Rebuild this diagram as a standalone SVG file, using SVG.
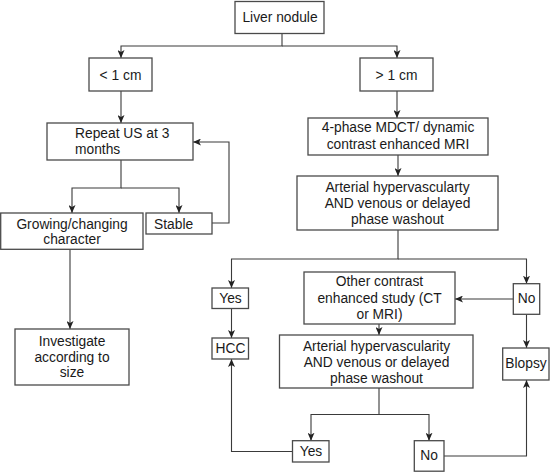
<svg xmlns="http://www.w3.org/2000/svg" width="555" height="472" viewBox="0 0 555 472">
<style>
.box{fill:#fff;stroke:#4a4a4a;stroke-width:1.3}
.t{font-family:"Liberation Sans",Arial,sans-serif;font-size:13.8px;fill:#1a1a1a;text-anchor:middle}
.l{text-anchor:start}
.c{fill:none;stroke:#3a3a3a;stroke-width:1.1}
</style>
<defs>
<marker id="ah" markerUnits="userSpaceOnUse" markerWidth="8" markerHeight="7" refX="8" refY="3.5" orient="auto">
<path d="M0,0 L8,3.5 L0,7 L2,3.5 z" fill="#222"/>
</marker>
</defs>
<rect width="555" height="472" fill="#fff"/>
<g id="connectors">
<path class="c" d="M282,33.5 V46 H121 V58" marker-end="url(#ah)"/>
<path class="c" d="M282,46 H397 V58" marker-end="url(#ah)"/>
<path class="c" d="M121,91 V123" marker-end="url(#ah)"/>
<path class="c" d="M121,160 V188 H72 V213" marker-end="url(#ah)"/>
<path class="c" d="M121,188 H179 V213" marker-end="url(#ah)"/>
<path class="c" d="M212,223 H229 V142 H193" marker-end="url(#ah)"/>
<path class="c" d="M70,249 V329" marker-end="url(#ah)"/>
<path class="c" d="M397,91 V118" marker-end="url(#ah)"/>
<path class="c" d="M398,155 V176" marker-end="url(#ah)"/>
<path class="c" d="M398,230 V259 H231.5 V288" marker-end="url(#ah)"/>
<path class="c" d="M398,259 H526.5 V283.7" marker-end="url(#ah)"/>
<path class="c" d="M513.3,299 H455" marker-end="url(#ah)"/>
<path class="c" d="M526.5,314.3 V348" marker-end="url(#ah)"/>
<path class="c" d="M231.5,308.5 V338" marker-end="url(#ah)"/>
<path class="c" d="M379,324 V335" marker-end="url(#ah)"/>
<path class="c" d="M379,388 V414.5 H311 V440.7" marker-end="url(#ah)"/>
<path class="c" d="M379,414.5 H429 V440.7" marker-end="url(#ah)"/>
<path class="c" d="M292.5,451.5 H231.5 V359" marker-end="url(#ah)"/>
<path class="c" d="M444,456 H526.5 V380" marker-end="url(#ah)"/>
</g>
<g id="liver"><rect class="box" x="235" y="1.5" width="89" height="32"/><text class="t" x="280" y="22">Liver nodule</text></g>
<g id="lt1"><rect class="box" x="89" y="58" width="63" height="33"/><text class="t" x="120.5" y="79.5">&lt; 1 cm</text></g>
<g id="gt1"><rect class="box" x="360" y="58" width="73" height="33"/><text class="t" x="396.5" y="79.5">&gt; 1 cm</text></g>
<g id="repeat"><rect class="box" x="47" y="123" width="146" height="37"/><text class="t l" x="75" y="138">Repeat US at 3</text><text class="t l" x="75" y="153.5">months</text></g>
<g id="growing"><rect class="box" x="0.7" y="213" width="142.3" height="36.3"/><text class="t" x="72" y="228.5">Growing/changing</text><text class="t" x="72" y="243.5">character</text></g>
<g id="stable"><rect class="box" x="146" y="213" width="66" height="21"/><text class="t l" x="154" y="228.5">Stable</text></g>
<g id="investigate"><rect class="box" x="15" y="329" width="114" height="56"/><text class="t" x="72" y="346">Investigate</text><text class="t" x="72" y="361.5">according to</text><text class="t" x="72" y="377">size</text></g>
<g id="phase4"><rect class="box" x="308" y="118" width="180" height="37"/><text class="t" x="398" y="132.3">4-phase MDCT/ dynamic</text><text class="t" x="398" y="149">contrast enhanced MRI</text></g>
<g id="arterial1"><rect class="box" x="297" y="176" width="201" height="54"/><text class="t" x="397.5" y="192">Arterial hypervascularty</text><text class="t" x="397.5" y="208">AND venous or delayed</text><text class="t" x="397.5" y="223.6">phase washout</text></g>
<g id="yes1"><rect class="box" x="212" y="288" width="36.5" height="20.5"/><text class="t" x="230.5" y="303">Yes</text></g>
<g id="hcc"><rect class="box" x="212" y="338" width="36.5" height="21"/><text class="t" x="230.5" y="353">HCC</text></g>
<g id="other"><rect class="box" x="304" y="272" width="151" height="52"/><text class="t" x="379.5" y="286">Other contrast</text><text class="t" x="379.5" y="303.3">enhanced study (CT</text><text class="t" x="379.5" y="318.6">or MRI)</text></g>
<g id="noR"><rect class="box" x="513.3" y="283.7" width="26.4" height="30.6"/><text class="t" x="526.5" y="303">No</text></g>
<g id="biopsy"><rect class="box" x="502.7" y="348" width="46.3" height="32"/><text class="t" x="526" y="368">Blopsy</text></g>
<g id="arterial2"><rect class="box" x="279.5" y="335" width="193.5" height="53"/><text class="t" x="376.5" y="351">Arterial hypervascularity</text><text class="t" x="376.5" y="367">AND venous or delayed</text><text class="t" x="376.5" y="382.6">phase washout</text></g>
<g id="yes2"><rect class="box" x="292.5" y="440.7" width="36.5" height="21.3"/><text class="t" x="311" y="456">Yes</text></g>
<g id="no2"><rect class="box" x="414.3" y="440.7" width="29.7" height="30.5"/><text class="t" x="429" y="459.6">No</text></g>
</svg>
